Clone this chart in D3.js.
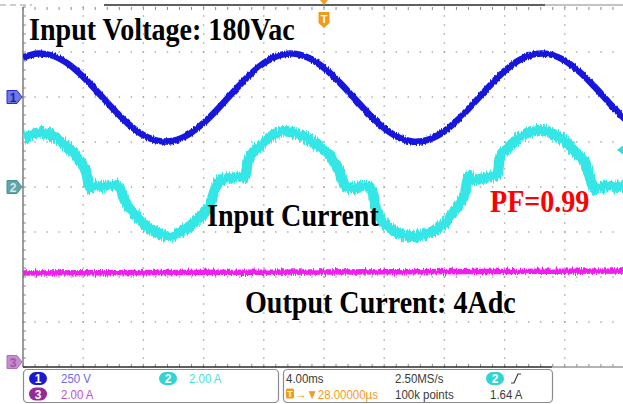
<!DOCTYPE html>
<html>
<head>
<meta charset="utf-8">
<script src="https://cdn.jsdelivr.net/npm/d3@7"></script>
<style>
  html, body { margin: 0; padding: 0; background: #fff; }
  svg { display: block; }
</style>
</head>
<body>
<svg id="scope" width="623" height="404"></svg>
<script>
// ---- captured waveform data ----
// Channel 1: input voltage (V), sampled every 1 ms across the 40 ms record
const timeMs = [-20,-19,-18,-17,-16,-15,-14,-13,-12,-11,-10,-9,-8,-7,-6,-5,-4,-3,-2,-1,
                0,1,2,3,4,5,6,7,8,9,10,11,12,13,14,15,16,17,18,19,20];
const inputVoltage = [220,242,229,184,112,24,-67,-150,-212,-244,-243,-208,-144,-61,31,118,188,231,241,217,
                      162,84,-6,-96,-173,-226,-248,-235,-190,-118,-30,61,144,206,238,237,202,138,55,-37,-124];

// Channel 2: input current (A), read at the turning points of the trace
const currentTimeMs = [-20.0,-18.74,-17.54,-16.74,-16.21,-15.81,-15.55,-15.22,-14.55,-13.89,-13.55,-13.22,-12.56,-11.89,
                       -10.90,-10.23,-9.57,-8.90,-8.24,-7.57,-7.24,-6.91,-6.25,-5.25,-5.05,-4.78,-4.25,-3.59,-2.59,
                       -1.59,-0.93,-0.27,0.40,1.06,1.40,2.06,2.92,3.19,3.46,3.72,4.39,5.05,6.05,6.71,7.38,8.04,8.70,
                       9.37,9.63,9.83,10.70,11.50,11.69,12.36,13.02,14.35,15.35,16.01,16.68,17.34,17.67,18.01,18.67,19.87,20.0];
const inputCurrent = [2.13,2.44,2.04,1.60,1.16,0.67,-0.04,0.04,0.04,0.13,-0.09,-0.62,-1.20,-1.69,
                      -2.09,-2.18,-2.00,-1.73,-1.33,-0.80,-0.13,0.31,0.40,0.49,1.11,1.47,1.82,2.22,2.49,
                      2.31,2.09,1.78,1.38,0.67,0.04,-0.04,0.04,-0.18,-0.93,-1.38,-1.82,-2.09,-2.18,-2.09,-1.91,-1.60,-1.02,
                      -0.27,0.49,0.31,0.40,0.53,1.33,1.82,2.22,2.53,2.31,2.04,1.56,1.07,0.40,-0.09,0.04,0.00,0.00];

// Channel 3: output current (A)
const outputTimeMs = [-20,-10,0,10,20];
const outputCurrent = [3.96,3.98,4.00,4.02,4.04];

// Vertical settings per channel
const channelNames = ["1", "2", "3"];
const channelPerDiv = [250, 2, 2];
const channelScaleLabels = ["250 V", "2.00 A", "2.00 A"];

// Acquisition / trigger read-out
const timePerDivLabel = "4.00ms";
const triggerDelayLabel = "\u2192\u25BC28.00000\u00B5s";
const sampleRateLabel = "2.50MS/s";
const recordLengthLabel = "100k points";
const triggerLevelLabel = "1.64 A";
const triggerLevel = 1.64;

// Annotations
const annotations = [
  { text: "Input Voltage: 180Vac", x: 29, y: 40, color: "#000" },
  { text: "Input Current", x: 207, y: 226, color: "#000" },
  { text: "PF=0.99", x: 490, y: 212, color: "#ff0000" },
  { text: "Output Current: 4Adc", x: 245, y: 313, color: "#000" }
];

// ---- layout ----
const svg = d3.select("#scope");
const L = 23, R = 625, T = 7, B = 367;
const divW = (R - L) / 10, divH = (B - T) / 8;

const x = d3.scaleLinear().domain([-20, 20]).range([L, R]);
const refY = [T + 2 * divH, T + 4 * divH, 362];
const yCh = channelPerDiv.map((pd, i) =>
  d3.scaleLinear().domain([0, pd]).range([refY[i], refY[i] - divH]));

const colors = { ch1: "#1616dc", ch2: "#36e6e6", ch3: "#f01cf0" };

// filters for the noisy trace texture
const defs = svg.append("defs");
function hairFilter(id, scale, fx, seed) {
  const f = defs.append("filter").attr("id", id)
    .attr("filterUnits", "userSpaceOnUse")
    .attr("x", 0).attr("y", 0).attr("width", 623).attr("height", 404);
  f.append("feTurbulence").attr("type", "fractalNoise")
    .attr("baseFrequency", fx + " 0.08").attr("numOctaves", 2).attr("seed", seed).attr("result", "noise");
  f.append("feColorMatrix").attr("in", "noise").attr("type", "matrix")
    .attr("values", "0 0 0 0 0.5  0 1 0 0 0  0 0 0 0 0  0 0 0 0 1").attr("result", "map");
  f.append("feDisplacementMap").attr("in", "SourceGraphic").attr("in2", "map")
    .attr("scale", scale).attr("xChannelSelector", "R").attr("yChannelSelector", "G");
}
hairFilter("hair1", 4, 0.9, 2);
hairFilter("hair2", 10, 0.9, 5);
hairFilter("hair3", 6, 0.9, 8);

defs.append("clipPath").attr("id", "plotClip")
  .append("rect").attr("x", L).attr("y", T - 2).attr("width", R - L).attr("height", B - T + 2);

// ---- graticule ----
const grid = svg.append("g").attr("fill", "#a4a4a4");
for (let i = 1; i <= 9; i++) {
  const gx = L + i * divW;
  for (let j = 0; j <= 40; j++) {
    const gy = T + j * divH / 5;
    grid.append("rect").attr("x", gx - 0.7).attr("y", gy - 0.7).attr("width", 1.4).attr("height", 1.4);
  }
}
for (let j = 1; j <= 7; j++) {
  const gy = T + j * divH;
  for (let i = 0; i <= 50; i++) {
    const gx = L + i * divW / 5;
    if (gx > 623) continue;
    grid.append("rect").attr("x", gx - 0.7).attr("y", gy - 0.7).attr("width", 1.4).attr("height", 1.4);
  }
}
// border ticks
const ticks = svg.append("g").attr("stroke", "#8a8a8a").attr("stroke-width", 1);
for (let j = 0; j <= 40; j++) {
  const gy = T + j * divH / 5;
  ticks.append("line").attr("x1", L).attr("x2", L + 3).attr("y1", gy).attr("y2", gy);
}
for (let i = 0; i <= 50; i++) {
  const gx = L + i * divW / 5;
  ticks.append("line").attr("x1", gx).attr("x2", gx).attr("y1", T).attr("y2", T + 3);
  ticks.append("line").attr("x1", gx).attr("x2", gx).attr("y1", B - 3).attr("y2", B);
}
svg.append("line").attr("x1", L).attr("x2", L).attr("y1", T).attr("y2", B)
  .attr("stroke", "#7c7c7c").attr("stroke-width", 1.5);
svg.append("line").attr("x1", L).attr("x2", 552).attr("y1", B).attr("y2", B)
  .attr("stroke", "#2a2a2a").attr("stroke-width", 1.6);
svg.append("line").attr("x1", 552).attr("x2", 623).attr("y1", B).attr("y2", B)
  .attr("stroke", "#9a9a9a").attr("stroke-width", 1.6);
// record view bar along the top
svg.append("line").attr("x1", 0).attr("x2", 32).attr("y1", 5).attr("y2", 5)
  .attr("stroke", "#9a9a9a").attr("stroke-dasharray", "6,4");
svg.append("line").attr("x1", 104).attr("x2", 545).attr("y1", 5).attr("y2", 5)
  .attr("stroke", "#2a2a2a").attr("stroke-width", 1.4);
svg.append("line").attr("x1", 545).attr("x2", 623).attr("y1", 5).attr("y2", 5)
  .attr("stroke", "#b0b0b0").attr("stroke-width", 1.4);

// ---- traces ----
const traces = svg.append("g").attr("clip-path", "url(#plotClip)");
const lineCh = (i, times) => d3.line()
  .x((d, k) => x(times[k]))
  .y(d => yCh[i](d))
  .curve(i === 0 ? d3.curveCatmullRom : d3.curveMonotoneX);

traces.append("path").datum(outputCurrent)
  .attr("d", lineCh(2, outputTimeMs))
  .attr("fill", "none").attr("stroke", colors.ch3).attr("stroke-width", 5.5)
  .attr("filter", "url(#hair3)");
traces.append("path").datum(inputCurrent)
  .attr("d", lineCh(1, currentTimeMs))
  .attr("fill", "none").attr("stroke", colors.ch2).attr("stroke-width", 10.5)
  .attr("stroke-linejoin", "round").attr("filter", "url(#hair2)");
traces.append("path").datum(inputVoltage)
  .attr("d", lineCh(0, timeMs))
  .attr("fill", "none").attr("stroke", colors.ch1).attr("stroke-width", 6.5)
  .attr("filter", "url(#hair1)");

// ---- channel reference markers ----
const markerStyle = [
  { fill: "#7078e4", stroke: "#2a2ad2", text: "#1c1cb0" },
  { fill: "#5fa6a6", stroke: "#4b9090", text: "#cfe9e9" },
  { fill: "#c88ad0", stroke: "#b070b8", text: "#9a5aa4" }
];
channelNames.forEach((name, i) => {
  const cy = yCh[i](0);
  const g = svg.append("g").attr("transform", `translate(7,${cy})`);
  g.append("path").attr("d", "M0,-6.5 H10 L15,0 L10,6.5 H0 Z")
    .attr("fill", markerStyle[i].fill).attr("stroke", markerStyle[i].stroke).attr("stroke-width", 1);
  g.append("text").attr("x", 6).attr("y", 5).attr("text-anchor", "middle")
    .attr("font-family", "Liberation Sans, Arial, sans-serif").attr("font-weight", "bold")
    .attr("font-size", 12).attr("fill", markerStyle[i].text).text(name);
});

// trigger position marker (top) and trigger level marker (right edge)
const trigX = x(0);
svg.append("path").attr("d", `M${trigX - 4},0 L${trigX + 4},0 L${trigX},5 Z`).attr("fill", "#f2a024");
const tg = svg.append("g").attr("transform", `translate(${trigX},12)`);
tg.append("path").attr("d", "M-5.5,0 H5.5 V11 L0,16 L-5.5,11 Z").attr("fill", "#f29a1a");
tg.append("text").attr("x", 0).attr("y", 10.5).attr("text-anchor", "middle")
  .attr("font-family", "Liberation Sans, Arial, sans-serif").attr("font-weight", "bold")
  .attr("font-size", 11).attr("fill", "#fff").text("T");
const tly = yCh[1](triggerLevel);
svg.append("path").attr("d", `M617,${tly} L623,${tly - 4.5} L623,${tly + 4.5} Z`).attr("fill", "#3ad8d8");

// ---- annotations ----
annotations.forEach(a => {
  svg.append("text")
    .attr("transform", `translate(${a.x},${a.y}) scale(1.01,1.1)`)
    .attr("font-family", "Liberation Serif, Times New Roman, serif")
    .attr("font-weight", "bold").attr("font-size", 27.8)
    .attr("fill", a.color).text(a.text);
});

// ---- read-out panel ----
const panel = svg.append("g");
panel.append("rect").attr("x", 23.5).attr("y", 369.5).attr("width", 255).attr("height", 33).attr("rx", 4)
  .attr("fill", "#fff").attr("stroke", "#8c8c8c").attr("stroke-width", 1.2);
panel.append("rect").attr("x", 283.5).attr("y", 369.5).attr("width", 269).attr("height", 33).attr("rx", 4)
  .attr("fill", "#fff").attr("stroke", "#8c8c8c").attr("stroke-width", 1.2);

function readout(txt, px, py, color) {
  panel.append("text").attr("transform", `translate(${px},${py}) scale(0.85,1)`)
    .attr("font-family", "Liberation Sans, Arial, sans-serif").attr("font-size", 13.5)
    .attr("fill", color).text(txt);
}
function pill(label, cx, cy, fill) {
  panel.append("rect").attr("x", cx - 9).attr("y", cy - 6.5).attr("width", 18).attr("height", 13)
    .attr("rx", 6.5).attr("fill", fill);
  panel.append("text").attr("x", cx).attr("y", cy + 4.5).attr("text-anchor", "middle")
    .attr("font-family", "Liberation Sans, Arial, sans-serif").attr("font-weight", "bold")
    .attr("font-size", 12).attr("fill", "#fff").text(label);
}
pill(channelNames[0], 38, 378.5, "#1a1ad0");
readout(channelScaleLabels[0], 61, 383, "#6a6af2");
pill(channelNames[1], 168, 378.5, "#30d4d4");
readout(channelScaleLabels[1], 189, 383, "#4adede");
pill(channelNames[2], 38, 394, "#982a98");
readout(channelScaleLabels[2], 61, 399, "#c050c8");

readout(timePerDivLabel, 286, 383, "#3a3a3a");
panel.append("rect").attr("x", 286).attr("y", 388.5).attr("width", 8).attr("height", 10).attr("rx", 1.5).attr("fill", "#f39a1e");
panel.append("text").attr("x", 290).attr("y", 397).attr("text-anchor", "middle")
  .attr("font-family", "Liberation Sans, Arial, sans-serif").attr("font-weight", "bold")
  .attr("font-size", 9).attr("fill", "#fff").text("T");
readout(triggerDelayLabel, 295, 399, "#f39a1e");
readout(sampleRateLabel, 395, 383, "#3a3a3a");
readout(recordLengthLabel, 395, 399, "#3a3a3a");
pill(channelNames[1], 495, 378.5, "#30d4d4");
panel.append("path").attr("d", "M511,383 H514 L518,374 H521")
  .attr("fill", "none").attr("stroke", "#3a3a3a").attr("stroke-width", 1.2);
readout(triggerLevelLabel, 490, 399, "#3a3a3a");
</script>
</body>
</html>
